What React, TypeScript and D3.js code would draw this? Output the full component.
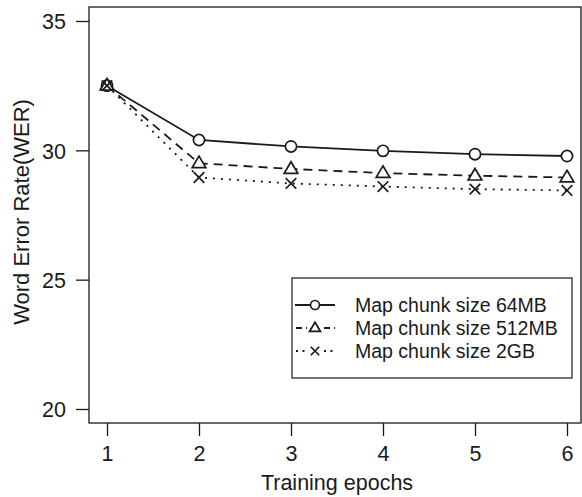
import { useEffect, useRef } from "react";
import * as d3 from "d3";

const epochs = [1, 2, 3, 4, 5, 6];
const chunk64MB = [32.5, 30.4, 30.15, 29.98, 29.85, 29.78];
const chunk512MB = [32.5, 29.5, 29.28, 29.12, 29.02, 28.95];
const chunk2GB = [32.5, 28.95, 28.72, 28.6, 28.5, 28.45];
const yTicks = [20, 25, 30, 35];
const seriesNames = ["Map chunk size 64MB", "Map chunk size 512MB", "Map chunk size 2GB"];

const W = 582;
const H = 497;
const FONT = "'Liberation Sans', Arial, Helvetica, sans-serif";
const INK = "#1a1a1a";

const App = () => {
  const svgRef = useRef<SVGSVGElement>(null);

  useEffect(() => {
    if (!svgRef.current) return;
    const svg = d3.select(svgRef.current);
    svg.selectAll("*").remove();

    const box = { left: 89, top: 7, right: 581, bottom: 423 };
    const x = d3.scaleLinear().domain([1, 6]).range([107, 567]);
    const y = d3.scaleLinear().domain([20, 35]).range([409, 21]);

    // plot frame
    svg
      .append("rect")
      .attr("x", box.left)
      .attr("y", box.top)
      .attr("width", box.right - box.left)
      .attr("height", box.bottom - box.top)
      .attr("fill", "none")
      .attr("stroke", INK)
      .attr("stroke-width", 1.3);

    // y axis: ticks outside the frame, labels right-aligned
    const yAxis = svg
      .append("g")
      .attr("transform", `translate(${box.left},0)`)
      .call(d3.axisLeft(y).tickValues(yTicks).tickSize(13).tickPadding(10));
    yAxis.select(".domain").remove();
    yAxis.selectAll(".tick line").attr("stroke", INK).attr("stroke-width", 1.3);
    yAxis
      .selectAll(".tick text")
      .attr("font-size", 21.5)
      .attr("font-family", FONT)
      .attr("fill", INK)
      .attr("dy", "0.36em");

    // x axis
    const xAxis = svg
      .append("g")
      .attr("transform", `translate(0,${box.bottom})`)
      .call(d3.axisBottom(x).tickValues(epochs).tickFormat(d3.format("d")).tickSize(13).tickPadding(10));
    xAxis.select(".domain").remove();
    xAxis.selectAll(".tick line").attr("stroke", INK).attr("stroke-width", 1.3);
    xAxis
      .selectAll(".tick text")
      .attr("font-size", 21.5)
      .attr("font-family", FONT)
      .attr("fill", INK);

    // axis titles
    svg
      .append("text")
      .attr("x", 337)
      .attr("y", 490)
      .attr("text-anchor", "middle")
      .attr("font-size", 21.5)
      .attr("font-family", FONT)
      .attr("fill", INK)
      .text("Training epochs");
    svg
      .append("text")
      .attr("transform", `translate(29,212) rotate(-90)`)
      .attr("text-anchor", "middle")
      .attr("font-size", 22)
      .attr("font-family", FONT)
      .attr("fill", INK)
      .text("Word Error Rate(WER)");

    const series = [
      { values: chunk64MB, dash: null as string | null, marker: "circle" },
      { values: chunk512MB, dash: "9,6", marker: "triangle" },
      { values: chunk2GB, dash: "2,6", marker: "cross" },
    ];

    const drawMarker = (
      g: d3.Selection<SVGGElement, unknown, null, undefined>,
      kind: string,
      cx: number,
      cy: number,
      k = 1
    ) => {
      if (kind === "circle") {
        g.append("circle").attr("cx", cx).attr("cy", cy).attr("r", 5.6 * k)
          .attr("fill", "white").attr("stroke", INK).attr("stroke-width", 1.7);
      } else if (kind === "triangle") {
        const s = 7.2 * k;
        g.append("path")
          .attr("d", `M${cx},${cy - s} L${cx + s * 0.95},${cy + s * 0.6} L${cx - s * 0.95},${cy + s * 0.6} Z`)
          .attr("fill", "white").attr("stroke", INK).attr("stroke-width", 1.7);
      } else {
        const s = 5.3 * k;
        g.append("path")
          .attr("d", `M${cx - s},${cy - s} L${cx + s},${cy + s} M${cx - s},${cy + s} L${cx + s},${cy - s}`)
          .attr("fill", "none").attr("stroke", INK).attr("stroke-width", 1.7);
      }
    };

    const line = d3
      .line<number>()
      .x((_, i) => x(epochs[i]))
      .y((d) => y(d));

    // lines first, then markers on top
    series.forEach((s) => {
      svg
        .append("path")
        .datum(s.values)
        .attr("d", line)
        .attr("fill", "none")
        .attr("stroke", INK)
        .attr("stroke-width", 1.8)
        .attr("stroke-dasharray", s.dash);
    });
    series.forEach((s) => {
      const g = svg.append("g");
      s.values.forEach((v, i) => drawMarker(g, s.marker, x(epochs[i]), y(v)));
    });

    // legend
    const lg = { left: 292, top: 278, width: 280, height: 100 };
    svg
      .append("rect")
      .attr("x", lg.left)
      .attr("y", lg.top)
      .attr("width", lg.width)
      .attr("height", lg.height)
      .attr("fill", "white")
      .attr("stroke", INK)
      .attr("stroke-width", 1.2);
    const legendDash = [null, "6,4", "2,4.5"];
    series.forEach((s, i) => {
      const cy = 305 + i * 23;
      const g = svg.append("g");
      const segs = i === 0 ? [[295, 335]] : [[296, 307], [324, 335]];
      segs.forEach(([a, b]) => {
        g.append("line")
          .attr("x1", a)
          .attr("x2", b)
          .attr("y1", cy)
          .attr("y2", cy)
          .attr("stroke", INK)
          .attr("stroke-width", 1.8)
          .attr("stroke-dasharray", legendDash[i]);
      });
      drawMarker(g, s.marker, 315, cy, 0.8);
      g.append("text")
        .attr("x", 355)
        .attr("y", cy)
        .attr("dy", "0.36em")
        .attr("font-size", 19.5)
        .attr("font-family", FONT)
        .attr("fill", INK)
        .text(seriesNames[i]);
    });
  }, []);

  return (
    <svg
      ref={svgRef}
      width={W}
      height={H}
      style={{ position: "absolute", left: 0, top: 0, background: "white" }}
    />
  );
};

export default App;
